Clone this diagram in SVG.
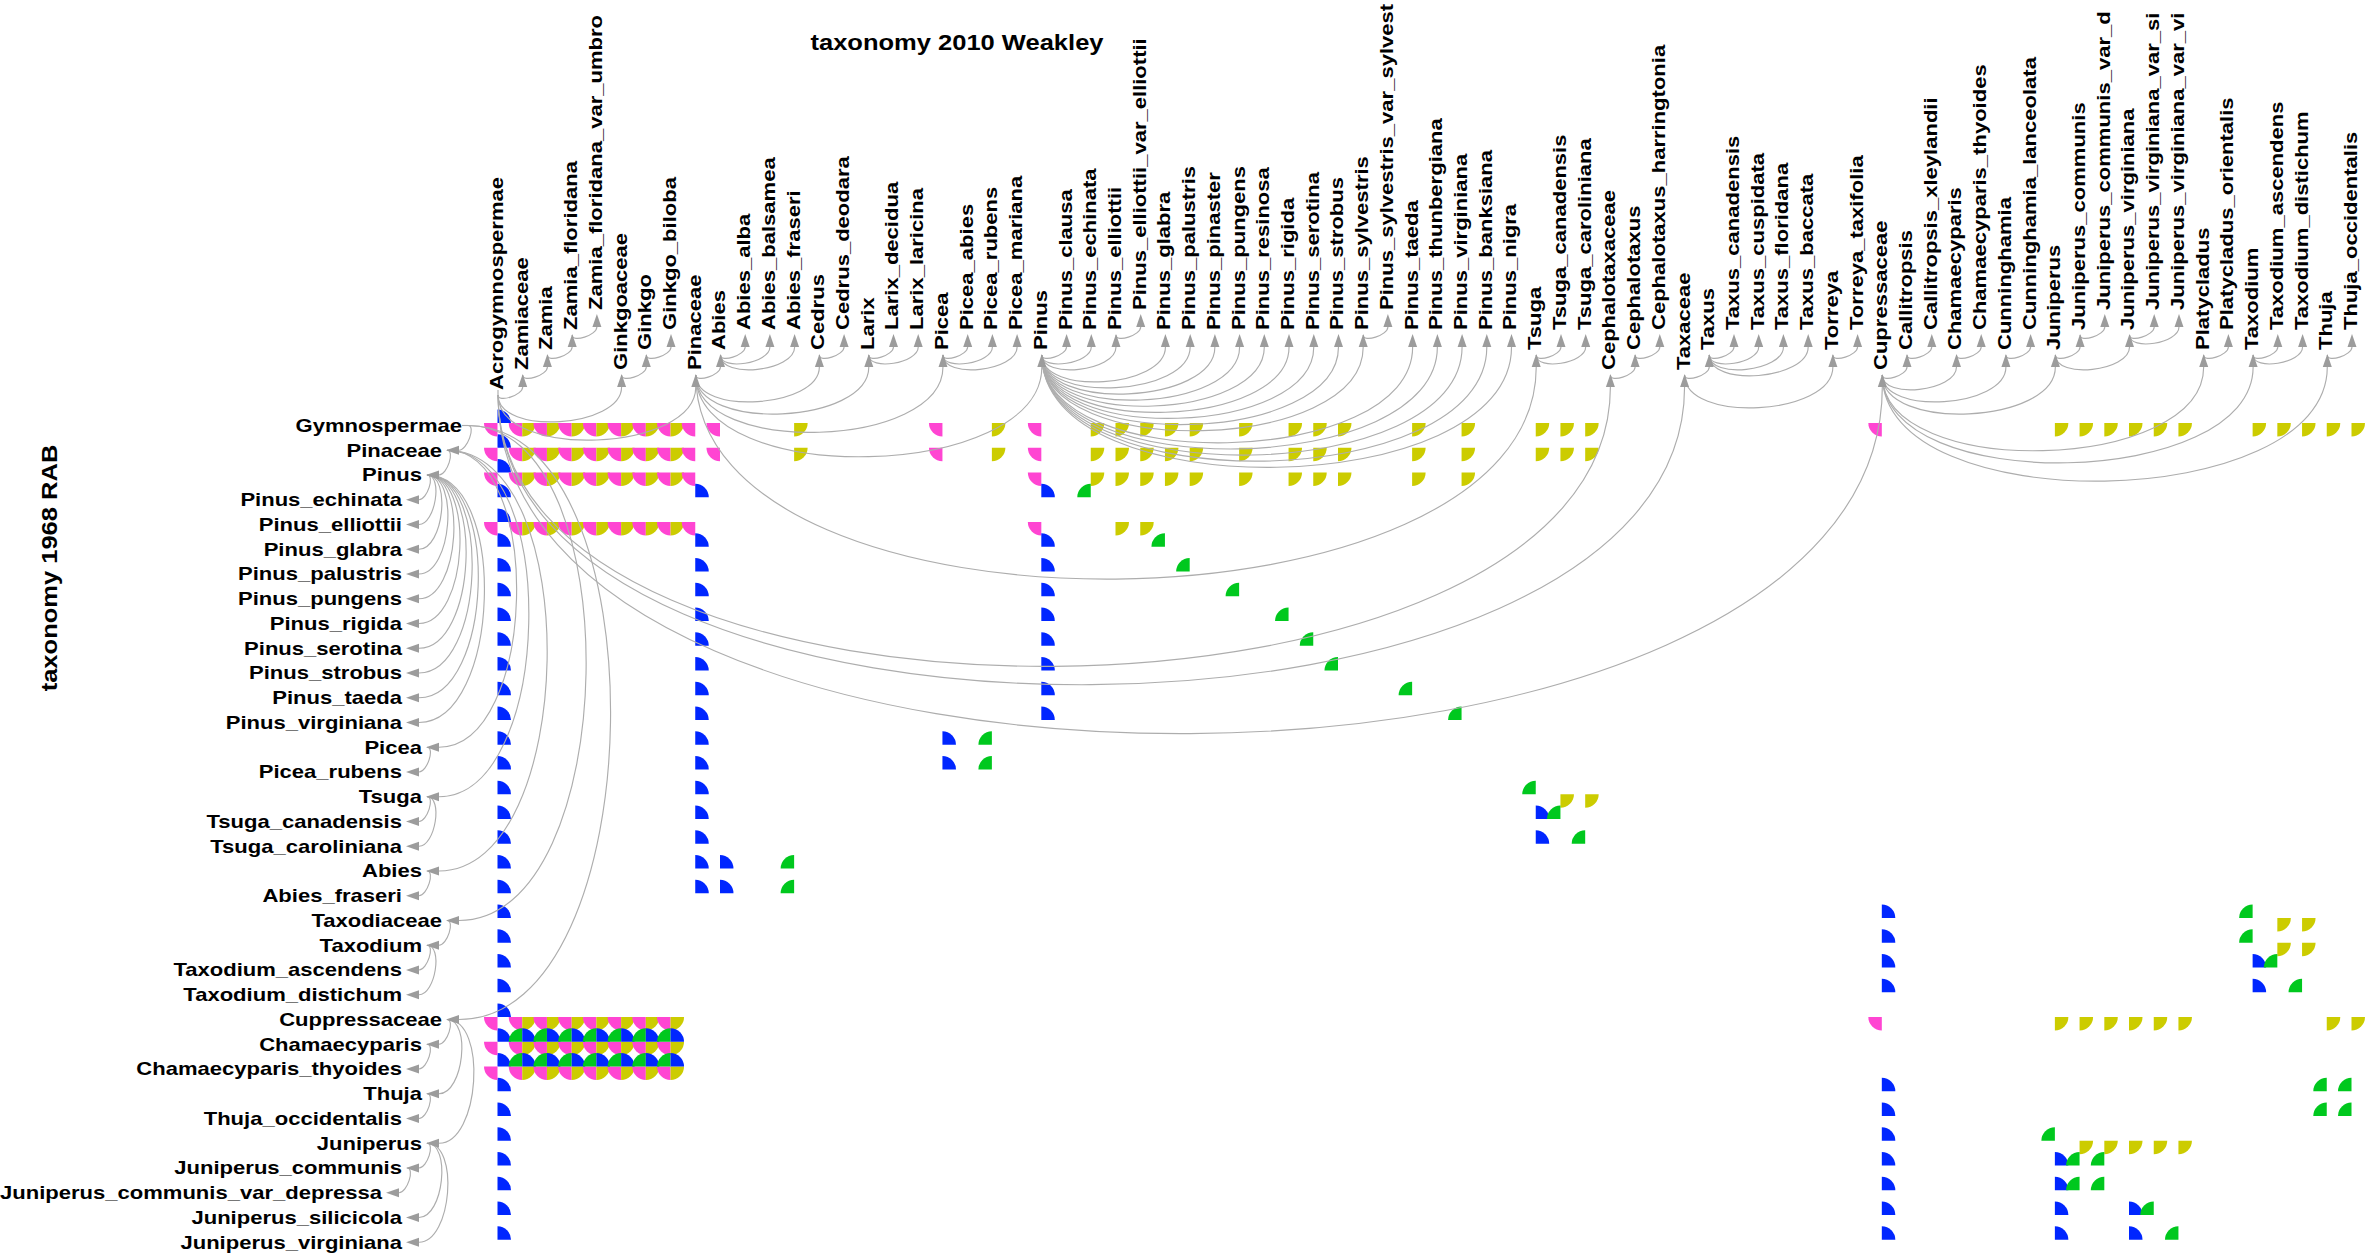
<svg xmlns="http://www.w3.org/2000/svg" width="2380" height="1260" viewBox="0 0 2380 1260">
<style>
text{font-family:"Liberation Sans",Arial,Helvetica,sans-serif;font-weight:bold;font-size:19px;fill:#000}
.title{font-size:22px}
.e path{fill:none;stroke:#adadad;stroke-width:1.15px;vector-effect:non-scaling-stroke}
</style>
<defs>
<path id="au" d="M0 0L-11.21 -4.5V4.5Z" fill="#9c9c9c"/>
<path id="al" d="M0 0L11.21 -4.5V4.5Z" fill="#9c9c9c"/>
<path id="P" d="M0 0H-.546A.546 .546 0 0 0 0 .546Z" fill="#ff45d2"/>
<path id="Y" d="M0 0V.546A.546 .546 0 0 0 .546 0Z" fill="#cccc00"/>
<path id="B" d="M0 0H.546A.546 .546 0 0 0 0 -.546Z" fill="#0026ff"/>
<path id="G" d="M0 0V-.546A.546 .546 0 0 0 -.546 0Z" fill="#00c81e"/>
<g id="py7"><use href="#P" x="1"/><use href="#Y" x="1"/><use href="#P" x="2"/><use href="#Y" x="2"/><use href="#P" x="3"/><use href="#Y" x="3"/><use href="#P" x="4"/><use href="#Y" x="4"/><use href="#P" x="5"/><use href="#Y" x="5"/><use href="#P" x="6"/><use href="#Y" x="6"/><use href="#P" x="7"/><use href="#Y" x="7"/></g>
<g id="gb7"><use href="#G" x="1"/><use href="#B" x="1"/><use href="#G" x="2"/><use href="#B" x="2"/><use href="#G" x="3"/><use href="#B" x="3"/><use href="#G" x="4"/><use href="#B" x="4"/><use href="#G" x="5"/><use href="#B" x="5"/><use href="#G" x="6"/><use href="#B" x="6"/><use href="#G" x="7"/><use href="#B" x="7"/></g>
<g id="pinY"><use href="#Y" x="24"/><use href="#Y" x="25"/><use href="#Y" x="26"/><use href="#Y" x="27"/><use href="#Y" x="28"/><use href="#Y" x="30"/><use href="#Y" x="32"/><use href="#Y" x="33"/><use href="#Y" x="34"/><use href="#Y" x="37"/><use href="#Y" x="39"/></g>
<g id="junY"><use href="#Y" x="64"/><use href="#Y" x="65"/><use href="#Y" x="66"/><use href="#Y" x="67"/><use href="#Y" x="68"/></g>
</defs>
<rect width="2380" height="1260" fill="#fff"/>
<text class="title" text-anchor="middle" transform="translate(957 50) scale(1.16 1)">taxonomy 2010 Weakley</text>
<text class="title" text-anchor="middle" transform="translate(57 568) rotate(-90) scale(1.16 1)">taxonomy 1968 RAB</text>

<g id="matrix" transform="translate(497.5 423) scale(24.72 24.75)">
<use href="#B" y="0"/><use href="#B" y="1"/><use href="#B" y="2"/><use href="#B" y="3"/><use href="#B" y="4"/><use href="#B" y="5"/><use href="#B" y="6"/><use href="#B" y="7"/><use href="#B" y="8"/><use href="#B" y="9"/><use href="#B" y="10"/><use href="#B" y="11"/><use href="#B" y="12"/><use href="#B" y="13"/><use href="#B" y="14"/><use href="#B" y="15"/><use href="#B" y="16"/><use href="#B" y="17"/><use href="#B" y="18"/><use href="#B" y="19"/><use href="#B" y="20"/><use href="#B" y="21"/><use href="#B" y="22"/><use href="#B" y="23"/><use href="#B" y="24"/><use href="#B" y="25"/><use href="#B" y="26"/><use href="#B" y="27"/><use href="#B" y="28"/><use href="#B" y="29"/><use href="#B" y="30"/><use href="#B" y="31"/><use href="#B" y="32"/><use href="#B" y="33"/>
<use href="#P" y="0"/><use href="#P" y="1"/><use href="#P" y="2"/><use href="#P" y="4"/><use href="#P" y="24"/><use href="#P" y="25"/><use href="#P" y="26"/>
<use href="#py7" y="0"/><use href="#py7" y="1"/><use href="#py7" y="2"/><use href="#py7" y="4"/><use href="#py7" y="24"/><use href="#py7" y="25"/><use href="#py7" y="26"/>
<use href="#gb7" y="25"/><use href="#gb7" y="26"/>
<use href="#P" x="8" y="0"/><use href="#P" x="8" y="1"/><use href="#P" x="8" y="2"/><use href="#P" x="8" y="4"/>
<use href="#P" x="9" y="0"/><use href="#P" x="9" y="1"/>
<use href="#Y" x="12" y="0"/><use href="#Y" x="12" y="1"/>
<use href="#P" x="18" y="0"/><use href="#P" x="18" y="1"/>
<use href="#Y" x="20" y="0"/><use href="#Y" x="20" y="1"/>
<use href="#P" x="22" y="0"/><use href="#P" x="22" y="1"/><use href="#P" x="22" y="2"/><use href="#P" x="22" y="4"/>
<use href="#pinY" y="0"/><use href="#pinY" y="1"/><use href="#pinY" y="2"/>
<use href="#Y" x="42" y="0"/><use href="#Y" x="43" y="0"/><use href="#Y" x="44" y="0"/>
<use href="#Y" x="42" y="1"/><use href="#Y" x="43" y="1"/><use href="#Y" x="44" y="1"/>
<use href="#P" x="56" y="0"/><use href="#P" x="56" y="24"/>
<use href="#Y" x="63" y="0"/><use href="#junY" y="0"/><use href="#Y" x="63" y="24"/><use href="#junY" y="24"/>
<use href="#Y" x="71" y="0"/><use href="#Y" x="72" y="0"/><use href="#Y" x="73" y="0"/><use href="#Y" x="74" y="0"/><use href="#Y" x="75" y="0"/>
<use href="#Y" x="74" y="24"/><use href="#Y" x="75" y="24"/>
<use href="#B" x="8" y="3"/><use href="#B" x="8" y="5"/><use href="#B" x="8" y="6"/><use href="#B" x="8" y="7"/><use href="#B" x="8" y="8"/><use href="#B" x="8" y="9"/><use href="#B" x="8" y="10"/><use href="#B" x="8" y="11"/><use href="#B" x="8" y="12"/><use href="#B" x="8" y="13"/><use href="#B" x="8" y="14"/><use href="#B" x="8" y="15"/><use href="#B" x="8" y="16"/><use href="#B" x="8" y="17"/><use href="#B" x="8" y="18"/><use href="#B" x="8" y="19"/>
<use href="#B" x="22" y="3"/><use href="#B" x="22" y="5"/><use href="#B" x="22" y="6"/><use href="#B" x="22" y="7"/><use href="#B" x="22" y="8"/><use href="#B" x="22" y="9"/><use href="#B" x="22" y="10"/><use href="#B" x="22" y="11"/><use href="#B" x="22" y="12"/>
<use href="#G" x="24" y="3"/>
<use href="#Y" x="25" y="4"/><use href="#Y" x="26" y="4"/>
<use href="#G" x="27" y="5"/><use href="#G" x="28" y="6"/><use href="#G" x="30" y="7"/><use href="#G" x="32" y="8"/><use href="#G" x="33" y="9"/><use href="#G" x="34" y="10"/><use href="#G" x="37" y="11"/><use href="#G" x="39" y="12"/>
<use href="#B" x="18" y="13"/><use href="#G" x="20" y="13"/><use href="#B" x="18" y="14"/><use href="#G" x="20" y="14"/>
<use href="#G" x="42" y="15"/><use href="#Y" x="43" y="15"/><use href="#Y" x="44" y="15"/>
<use href="#B" x="42" y="16"/><use href="#G" x="43" y="16"/>
<use href="#B" x="42" y="17"/><use href="#G" x="44" y="17"/>
<use href="#B" x="9" y="18"/><use href="#G" x="12" y="18"/><use href="#B" x="9" y="19"/><use href="#G" x="12" y="19"/>
<use href="#B" x="56" y="20"/><use href="#B" x="56" y="21"/><use href="#B" x="56" y="22"/><use href="#B" x="56" y="23"/><use href="#B" x="56" y="27"/><use href="#B" x="56" y="28"/><use href="#B" x="56" y="29"/><use href="#B" x="56" y="30"/><use href="#B" x="56" y="31"/><use href="#B" x="56" y="32"/><use href="#B" x="56" y="33"/>
<use href="#G" x="71" y="20"/><use href="#Y" x="72" y="20"/><use href="#Y" x="73" y="20"/>
<use href="#G" x="71" y="21"/><use href="#Y" x="72" y="21"/><use href="#Y" x="73" y="21"/>
<use href="#B" x="71" y="22"/><use href="#G" x="72" y="22"/>
<use href="#B" x="71" y="23"/><use href="#G" x="73" y="23"/>
<use href="#G" x="74" y="27"/><use href="#G" x="75" y="27"/><use href="#G" x="74" y="28"/><use href="#G" x="75" y="28"/>
<use href="#G" x="63" y="29"/><use href="#junY" y="29"/>
<use href="#B" x="63" y="30"/><use href="#G" x="64" y="30"/><use href="#G" x="65" y="30"/>
<use href="#B" x="63" y="31"/><use href="#G" x="64" y="31"/><use href="#G" x="65" y="31"/>
<use href="#B" x="63" y="32"/><use href="#B" x="66" y="32"/><use href="#G" x="67" y="32"/>
<use href="#B" x="63" y="33"/><use href="#B" x="66" y="33"/><use href="#G" x="68" y="33"/>
</g>

<g id="connectors">
<g class="e" id="column-edges" transform="translate(498 0) scale(24.72 1)">
<path d="M0 390V395"/>
<path d="M0 395C0 403.2 1 395.2 1 387"/>
<path d="M0 395C0 435.8 5 427.8 5 387"/>
<path d="M0 395C0 460.3 8 452.3 8 387"/>
<path d="M0 395C0 762.1 45 754.1 45 387"/>
<path d="M0 395C0 786.6 48 778.6 48 387"/>
<path d="M0 395C0 851.8 56 843.8 56 387"/>
<path d="M1 375C1 383.2 2 375.2 2 367"/>
<path d="M2 355C2 363.2 3 355.2 3 347"/>
<path d="M3 335C3 343.2 4 335.2 4 327"/>
<path d="M5 375C5 383.2 6 375.2 6 367"/>
<path d="M6 355C6 363.2 7 355.2 7 347"/>
<path d="M8 375C8 383.2 9 375.2 9 367"/>
<path d="M8 375C8 415.8 13 407.8 13 367"/>
<path d="M8 375C8 432.1 15 424.1 15 367"/>
<path d="M8 375C8 456.6 18 448.6 18 367"/>
<path d="M8 375C8 489.2 22 481.2 22 367"/>
<path d="M8 375C8 652.4 42 644.4 42 367"/>
<path d="M9 355C9 363.2 10 355.2 10 347"/>
<path d="M9 355C9 371.3 11 363.3 11 347"/>
<path d="M9 355C9 379.5 12 371.5 12 347"/>
<path d="M13 355C13 363.2 14 355.2 14 347"/>
<path d="M15 355C15 363.2 16 355.2 16 347"/>
<path d="M15 355C15 371.3 17 363.3 17 347"/>
<path d="M18 355C18 363.2 19 355.2 19 347"/>
<path d="M18 355C18 371.3 20 363.3 20 347"/>
<path d="M18 355C18 379.5 21 371.5 21 347"/>
<path d="M22 355C22 363.2 23 355.2 23 347"/>
<path d="M22 355C22 371.3 24 363.3 24 347"/>
<path d="M22 355C22 379.5 25 371.5 25 347"/>
<path d="M22 355C22 395.8 27 387.8 27 347"/>
<path d="M22 355C22 403.9 28 395.9 28 347"/>
<path d="M22 355C22 412.1 29 404.1 29 347"/>
<path d="M22 355C22 420.3 30 412.3 30 347"/>
<path d="M22 355C22 428.4 31 420.4 31 347"/>
<path d="M22 355C22 436.6 32 428.6 32 347"/>
<path d="M22 355C22 444.7 33 436.7 33 347"/>
<path d="M22 355C22 452.9 34 444.9 34 347"/>
<path d="M22 355C22 461.1 35 453.1 35 347"/>
<path d="M22 355C22 477.4 37 469.4 37 347"/>
<path d="M22 355C22 485.5 38 477.5 38 347"/>
<path d="M22 355C22 493.7 39 485.7 39 347"/>
<path d="M22 355C22 501.8 40 493.8 40 347"/>
<path d="M22 355C22 510 41 502 41 347"/>
<path d="M25 335C25 343.2 26 335.2 26 327"/>
<path d="M35 335C35 343.2 36 335.2 36 327"/>
<path d="M42 355C42 363.2 43 355.2 43 347"/>
<path d="M42 355C42 371.3 44 363.3 44 347"/>
<path d="M45 375C45 383.2 46 375.2 46 367"/>
<path d="M46 355C46 363.2 47 355.2 47 347"/>
<path d="M48 375C48 383.2 49 375.2 49 367"/>
<path d="M48 375C48 423.9 54 415.9 54 367"/>
<path d="M49 355C49 363.2 50 355.2 50 347"/>
<path d="M49 355C49 371.3 51 363.3 51 347"/>
<path d="M49 355C49 379.5 52 371.5 52 347"/>
<path d="M49 355C49 387.6 53 379.6 53 347"/>
<path d="M54 355C54 363.2 55 355.2 55 347"/>
<path d="M56 375C56 383.2 57 375.2 57 367"/>
<path d="M56 375C56 399.5 59 391.5 59 367"/>
<path d="M56 375C56 415.8 61 407.8 61 367"/>
<path d="M56 375C56 432.1 63 424.1 63 367"/>
<path d="M56 375C56 481.1 69 473.1 69 367"/>
<path d="M56 375C56 497.4 71 489.4 71 367"/>
<path d="M56 375C56 521.8 74 513.8 74 367"/>
<path d="M57 355C57 363.2 58 355.2 58 347"/>
<path d="M59 355C59 363.2 60 355.2 60 347"/>
<path d="M61 355C61 363.2 62 355.2 62 347"/>
<path d="M63 355C63 363.2 64 355.2 64 347"/>
<path d="M63 355C63 379.5 66 371.5 66 347"/>
<path d="M64 335C64 343.2 65 335.2 65 327"/>
<path d="M66 335C66 343.2 67 335.2 67 327"/>
<path d="M66 335C66 351.3 68 343.3 68 327"/>
<path d="M69 355C69 363.2 70 355.2 70 347"/>
<path d="M71 355C71 363.2 72 355.2 72 347"/>
<path d="M71 355C71 371.3 73 363.3 73 347"/>
<path d="M74 355C74 363.2 75 355.2 75 347"/>
</g>
<g class="e" id="row-edges" transform="translate(0 425.5) scale(1 24.75)">
<path d="M462 0H468"/>
<path d="M468 0C476.2 0 467.2 1 459 1"/>
<path d="M468 0C631.4 0 622.4 20 459 20"/>
<path d="M468 0C664 0 655 24 459 24"/>
<path d="M447 1C455.2 1 447.2 2 439 2"/>
<path d="M447 1C545 1 537 13 439 13"/>
<path d="M447 1C561.3 1 553.3 15 439 15"/>
<path d="M447 1C585.8 1 577.8 18 439 18"/>
<path d="M427 2C435.2 2 427.2 3 419 3"/>
<path d="M427 2C443.3 2 435.3 4 419 4"/>
<path d="M427 2C451.5 2 443.5 5 419 5"/>
<path d="M427 2C459.7 2 451.7 6 419 6"/>
<path d="M427 2C467.8 2 459.8 7 419 7"/>
<path d="M427 2C476 2 468 8 419 8"/>
<path d="M427 2C484.2 2 476.2 9 419 9"/>
<path d="M427 2C492.3 2 484.3 10 419 10"/>
<path d="M427 2C500.5 2 492.5 11 419 11"/>
<path d="M427 2C508.7 2 500.7 12 419 12"/>
<path d="M427 13C435.2 13 427.2 14 419 14"/>
<path d="M427 15C435.2 15 427.2 16 419 16"/>
<path d="M427 15C443.3 15 435.3 17 419 17"/>
<path d="M427 18C435.2 18 427.2 19 419 19"/>
<path d="M447 20C455.2 20 447.2 21 439 21"/>
<path d="M427 21C435.2 21 427.2 22 419 22"/>
<path d="M427 21C443.3 21 435.3 23 419 23"/>
<path d="M447 24C455.2 24 447.2 25 439 25"/>
<path d="M447 24C471.5 24 463.5 27 439 27"/>
<path d="M447 24C487.8 24 479.8 29 439 29"/>
<path d="M427 25C435.2 25 427.2 26 419 26"/>
<path d="M427 27C435.2 27 427.2 28 419 28"/>
<path d="M427 29C435.2 29 427.2 30 419 30"/>
<path d="M427 29C451.5 29 443.5 32 419 32"/>
<path d="M427 29C459.7 29 451.7 33 419 33"/>
<path d="M407 30C415.2 30 407.2 31 399 31"/>
</g>
</g>

<g id="column-nodes" transform="rotate(-90) scale(1.16 1)">
<g id="col-Acrogymnospermae"><text x="-336.21" y="503">Acrogymnospermae</text></g>
<g id="col-Zamiaceae"><text x="-318.97" y="527.7">Zamiaceae</text><use href="#au" x="-322.41" y="522.7"/></g>
<g id="col-Zamia"><text x="-301.72" y="552.4">Zamia</text><use href="#au" x="-305.17" y="547.4"/></g>
<g id="col-Zamia_floridana"><text x="-284.48" y="577.2">Zamia_floridana</text><use href="#au" x="-287.93" y="572.2"/></g>
<g id="col-Zamia_floridana_var_umbro"><text x="-267.24" y="601.9">Zamia_floridana_var_umbro</text><use href="#au" x="-270.69" y="596.9"/></g>
<g id="col-Ginkgoaceae"><text x="-318.97" y="626.6">Ginkgoaceae</text><use href="#au" x="-322.41" y="621.6"/></g>
<g id="col-Ginkgo"><text x="-301.72" y="651.3">Ginkgo</text><use href="#au" x="-305.17" y="646.3"/></g>
<g id="col-Ginkgo_biloba"><text x="-284.48" y="676">Ginkgo_biloba</text><use href="#au" x="-287.93" y="671"/></g>
<g id="col-Pinaceae"><text x="-318.97" y="700.8">Pinaceae</text><use href="#au" x="-322.41" y="695.8"/></g>
<g id="col-Abies"><text x="-301.72" y="725.5">Abies</text><use href="#au" x="-305.17" y="720.5"/></g>
<g id="col-Abies_alba"><text x="-284.48" y="750.2">Abies_alba</text><use href="#au" x="-287.93" y="745.2"/></g>
<g id="col-Abies_balsamea"><text x="-284.48" y="774.9">Abies_balsamea</text><use href="#au" x="-287.93" y="769.9"/></g>
<g id="col-Abies_fraseri"><text x="-284.48" y="799.6">Abies_fraseri</text><use href="#au" x="-287.93" y="794.6"/></g>
<g id="col-Cedrus"><text x="-301.72" y="824.4">Cedrus</text><use href="#au" x="-305.17" y="819.4"/></g>
<g id="col-Cedrus_deodara"><text x="-284.48" y="849.1">Cedrus_deodara</text><use href="#au" x="-287.93" y="844.1"/></g>
<g id="col-Larix"><text x="-301.72" y="873.8">Larix</text><use href="#au" x="-305.17" y="868.8"/></g>
<g id="col-Larix_decidua"><text x="-284.48" y="898.5">Larix_decidua</text><use href="#au" x="-287.93" y="893.5"/></g>
<g id="col-Larix_laricina"><text x="-284.48" y="923.2">Larix_laricina</text><use href="#au" x="-287.93" y="918.2"/></g>
<g id="col-Picea"><text x="-301.72" y="948">Picea</text><use href="#au" x="-305.17" y="943"/></g>
<g id="col-Picea_abies"><text x="-284.48" y="972.7">Picea_abies</text><use href="#au" x="-287.93" y="967.7"/></g>
<g id="col-Picea_rubens"><text x="-284.48" y="997.4">Picea_rubens</text><use href="#au" x="-287.93" y="992.4"/></g>
<g id="col-Picea_mariana"><text x="-284.48" y="1022.1">Picea_mariana</text><use href="#au" x="-287.93" y="1017.1"/></g>
<g id="col-Pinus"><text x="-301.72" y="1046.8">Pinus</text><use href="#au" x="-305.17" y="1041.8"/></g>
<g id="col-Pinus_clausa"><text x="-284.48" y="1071.6">Pinus_clausa</text><use href="#au" x="-287.93" y="1066.6"/></g>
<g id="col-Pinus_echinata"><text x="-284.48" y="1096.3">Pinus_echinata</text><use href="#au" x="-287.93" y="1091.3"/></g>
<g id="col-Pinus_elliottii"><text x="-284.48" y="1121">Pinus_elliottii</text><use href="#au" x="-287.93" y="1116"/></g>
<g id="col-Pinus_elliottii_var_elliottii"><text x="-267.24" y="1145.7">Pinus_elliottii_var_elliottii</text><use href="#au" x="-270.69" y="1140.7"/></g>
<g id="col-Pinus_glabra"><text x="-284.48" y="1170.4">Pinus_glabra</text><use href="#au" x="-287.93" y="1165.4"/></g>
<g id="col-Pinus_palustris"><text x="-284.48" y="1195.2">Pinus_palustris</text><use href="#au" x="-287.93" y="1190.2"/></g>
<g id="col-Pinus_pinaster"><text x="-284.48" y="1219.9">Pinus_pinaster</text><use href="#au" x="-287.93" y="1214.9"/></g>
<g id="col-Pinus_pungens"><text x="-284.48" y="1244.6">Pinus_pungens</text><use href="#au" x="-287.93" y="1239.6"/></g>
<g id="col-Pinus_resinosa"><text x="-284.48" y="1269.3">Pinus_resinosa</text><use href="#au" x="-287.93" y="1264.3"/></g>
<g id="col-Pinus_rigida"><text x="-284.48" y="1294">Pinus_rigida</text><use href="#au" x="-287.93" y="1289"/></g>
<g id="col-Pinus_serotina"><text x="-284.48" y="1318.8">Pinus_serotina</text><use href="#au" x="-287.93" y="1313.8"/></g>
<g id="col-Pinus_strobus"><text x="-284.48" y="1343.5">Pinus_strobus</text><use href="#au" x="-287.93" y="1338.5"/></g>
<g id="col-Pinus_sylvestris"><text x="-284.48" y="1368.2">Pinus_sylvestris</text><use href="#au" x="-287.93" y="1363.2"/></g>
<g id="col-Pinus_sylvestris_var_sylvest"><text x="-267.24" y="1392.9">Pinus_sylvestris_var_sylvest</text><use href="#au" x="-270.69" y="1387.9"/></g>
<g id="col-Pinus_taeda"><text x="-284.48" y="1417.6">Pinus_taeda</text><use href="#au" x="-287.93" y="1412.6"/></g>
<g id="col-Pinus_thunbergiana"><text x="-284.48" y="1442.4">Pinus_thunbergiana</text><use href="#au" x="-287.93" y="1437.4"/></g>
<g id="col-Pinus_virginiana"><text x="-284.48" y="1467.1">Pinus_virginiana</text><use href="#au" x="-287.93" y="1462.1"/></g>
<g id="col-Pinus_banksiana"><text x="-284.48" y="1491.8">Pinus_banksiana</text><use href="#au" x="-287.93" y="1486.8"/></g>
<g id="col-Pinus_nigra"><text x="-284.48" y="1516.5">Pinus_nigra</text><use href="#au" x="-287.93" y="1511.5"/></g>
<g id="col-Tsuga"><text x="-301.72" y="1541.2">Tsuga</text><use href="#au" x="-305.17" y="1536.2"/></g>
<g id="col-Tsuga_canadensis"><text x="-284.48" y="1566">Tsuga_canadensis</text><use href="#au" x="-287.93" y="1561"/></g>
<g id="col-Tsuga_caroliniana"><text x="-284.48" y="1590.7">Tsuga_caroliniana</text><use href="#au" x="-287.93" y="1585.7"/></g>
<g id="col-Cephalotaxaceae"><text x="-318.97" y="1615.4">Cephalotaxaceae</text><use href="#au" x="-322.41" y="1610.4"/></g>
<g id="col-Cephalotaxus"><text x="-301.72" y="1640.1">Cephalotaxus</text><use href="#au" x="-305.17" y="1635.1"/></g>
<g id="col-Cephalotaxus_harringtonia"><text x="-284.48" y="1664.8">Cephalotaxus_harringtonia</text><use href="#au" x="-287.93" y="1659.8"/></g>
<g id="col-Taxaceae"><text x="-318.97" y="1689.6">Taxaceae</text><use href="#au" x="-322.41" y="1684.6"/></g>
<g id="col-Taxus"><text x="-301.72" y="1714.3">Taxus</text><use href="#au" x="-305.17" y="1709.3"/></g>
<g id="col-Taxus_canadensis"><text x="-284.48" y="1739">Taxus_canadensis</text><use href="#au" x="-287.93" y="1734"/></g>
<g id="col-Taxus_cuspidata"><text x="-284.48" y="1763.7">Taxus_cuspidata</text><use href="#au" x="-287.93" y="1758.7"/></g>
<g id="col-Taxus_floridana"><text x="-284.48" y="1788.4">Taxus_floridana</text><use href="#au" x="-287.93" y="1783.4"/></g>
<g id="col-Taxus_baccata"><text x="-284.48" y="1813.2">Taxus_baccata</text><use href="#au" x="-287.93" y="1808.2"/></g>
<g id="col-Torreya"><text x="-301.72" y="1837.9">Torreya</text><use href="#au" x="-305.17" y="1832.9"/></g>
<g id="col-Torreya_taxifolia"><text x="-284.48" y="1862.6">Torreya_taxifolia</text><use href="#au" x="-287.93" y="1857.6"/></g>
<g id="col-Cupressaceae"><text x="-318.97" y="1887.3">Cupressaceae</text><use href="#au" x="-322.41" y="1882.3"/></g>
<g id="col-Callitropsis"><text x="-301.72" y="1912">Callitropsis</text><use href="#au" x="-305.17" y="1907"/></g>
<g id="col-Callitropsis_xleylandii"><text x="-284.48" y="1936.8">Callitropsis_xleylandii</text><use href="#au" x="-287.93" y="1931.8"/></g>
<g id="col-Chamaecyparis"><text x="-301.72" y="1961.5">Chamaecyparis</text><use href="#au" x="-305.17" y="1956.5"/></g>
<g id="col-Chamaecyparis_thyoides"><text x="-284.48" y="1986.2">Chamaecyparis_thyoides</text><use href="#au" x="-287.93" y="1981.2"/></g>
<g id="col-Cunninghamia"><text x="-301.72" y="2010.9">Cunninghamia</text><use href="#au" x="-305.17" y="2005.9"/></g>
<g id="col-Cunninghamia_lanceolata"><text x="-284.48" y="2035.6">Cunninghamia_lanceolata</text><use href="#au" x="-287.93" y="2030.6"/></g>
<g id="col-Juniperus"><text x="-301.72" y="2060.4">Juniperus</text><use href="#au" x="-305.17" y="2055.4"/></g>
<g id="col-Juniperus_communis"><text x="-284.48" y="2085.1">Juniperus_communis</text><use href="#au" x="-287.93" y="2080.1"/></g>
<g id="col-Juniperus_communis_var_d"><text x="-267.24" y="2109.8">Juniperus_communis_var_d</text><use href="#au" x="-270.69" y="2104.8"/></g>
<g id="col-Juniperus_virginiana"><text x="-284.48" y="2134.5">Juniperus_virginiana</text><use href="#au" x="-287.93" y="2129.5"/></g>
<g id="col-Juniperus_virginiana_var_si"><text x="-267.24" y="2159.2">Juniperus_virginiana_var_si</text><use href="#au" x="-270.69" y="2154.2"/></g>
<g id="col-Juniperus_virginiana_var_vi"><text x="-267.24" y="2184">Juniperus_virginiana_var_vi</text><use href="#au" x="-270.69" y="2179"/></g>
<g id="col-Platycladus"><text x="-301.72" y="2208.7">Platycladus</text><use href="#au" x="-305.17" y="2203.7"/></g>
<g id="col-Platycladus_orientalis"><text x="-284.48" y="2233.4">Platycladus_orientalis</text><use href="#au" x="-287.93" y="2228.4"/></g>
<g id="col-Taxodium"><text x="-301.72" y="2258.1">Taxodium</text><use href="#au" x="-305.17" y="2253.1"/></g>
<g id="col-Taxodium_ascendens"><text x="-284.48" y="2282.8">Taxodium_ascendens</text><use href="#au" x="-287.93" y="2277.8"/></g>
<g id="col-Taxodium_distichum"><text x="-284.48" y="2307.6">Taxodium_distichum</text><use href="#au" x="-287.93" y="2302.6"/></g>
<g id="col-Thuja"><text x="-301.72" y="2332.3">Thuja</text><use href="#au" x="-305.17" y="2327.3"/></g>
<g id="col-Thuja_occidentalis"><text x="-284.48" y="2357">Thuja_occidentalis</text><use href="#au" x="-287.93" y="2352"/></g>
</g>

<g id="row-nodes" transform="scale(1.16 1)" text-anchor="end">
<g id="row-Gymnospermae"><text x="398.28" y="432">Gymnospermae</text></g>
<g id="row-Pinaceae"><text x="381.03" y="456.75">Pinaceae</text><use href="#al" x="384.48" y="450.25"/></g>
<g id="row-Pinus"><text x="363.79" y="481.5">Pinus</text><use href="#al" x="367.24" y="475"/></g>
<g id="row-Pinus_echinata"><text x="346.55" y="506.25">Pinus_echinata</text><use href="#al" x="350" y="499.75"/></g>
<g id="row-Pinus_elliottii"><text x="346.55" y="531">Pinus_elliottii</text><use href="#al" x="350" y="524.5"/></g>
<g id="row-Pinus_glabra"><text x="346.55" y="555.75">Pinus_glabra</text><use href="#al" x="350" y="549.25"/></g>
<g id="row-Pinus_palustris"><text x="346.55" y="580.5">Pinus_palustris</text><use href="#al" x="350" y="574"/></g>
<g id="row-Pinus_pungens"><text x="346.55" y="605.25">Pinus_pungens</text><use href="#al" x="350" y="598.75"/></g>
<g id="row-Pinus_rigida"><text x="346.55" y="630">Pinus_rigida</text><use href="#al" x="350" y="623.5"/></g>
<g id="row-Pinus_serotina"><text x="346.55" y="654.75">Pinus_serotina</text><use href="#al" x="350" y="648.25"/></g>
<g id="row-Pinus_strobus"><text x="346.55" y="679.5">Pinus_strobus</text><use href="#al" x="350" y="673"/></g>
<g id="row-Pinus_taeda"><text x="346.55" y="704.25">Pinus_taeda</text><use href="#al" x="350" y="697.75"/></g>
<g id="row-Pinus_virginiana"><text x="346.55" y="729">Pinus_virginiana</text><use href="#al" x="350" y="722.5"/></g>
<g id="row-Picea"><text x="363.79" y="753.75">Picea</text><use href="#al" x="367.24" y="747.25"/></g>
<g id="row-Picea_rubens"><text x="346.55" y="778.5">Picea_rubens</text><use href="#al" x="350" y="772"/></g>
<g id="row-Tsuga"><text x="363.79" y="803.25">Tsuga</text><use href="#al" x="367.24" y="796.75"/></g>
<g id="row-Tsuga_canadensis"><text x="346.55" y="828">Tsuga_canadensis</text><use href="#al" x="350" y="821.5"/></g>
<g id="row-Tsuga_caroliniana"><text x="346.55" y="852.75">Tsuga_caroliniana</text><use href="#al" x="350" y="846.25"/></g>
<g id="row-Abies"><text x="363.79" y="877.5">Abies</text><use href="#al" x="367.24" y="871"/></g>
<g id="row-Abies_fraseri"><text x="346.55" y="902.25">Abies_fraseri</text><use href="#al" x="350" y="895.75"/></g>
<g id="row-Taxodiaceae"><text x="381.03" y="927">Taxodiaceae</text><use href="#al" x="384.48" y="920.5"/></g>
<g id="row-Taxodium"><text x="363.79" y="951.75">Taxodium</text><use href="#al" x="367.24" y="945.25"/></g>
<g id="row-Taxodium_ascendens"><text x="346.55" y="976.5">Taxodium_ascendens</text><use href="#al" x="350" y="970"/></g>
<g id="row-Taxodium_distichum"><text x="346.55" y="1001.25">Taxodium_distichum</text><use href="#al" x="350" y="994.75"/></g>
<g id="row-Cuppressaceae"><text x="381.03" y="1026">Cuppressaceae</text><use href="#al" x="384.48" y="1019.5"/></g>
<g id="row-Chamaecyparis"><text x="363.79" y="1050.75">Chamaecyparis</text><use href="#al" x="367.24" y="1044.25"/></g>
<g id="row-Chamaecyparis_thyoides"><text x="346.55" y="1075.5">Chamaecyparis_thyoides</text><use href="#al" x="350" y="1069"/></g>
<g id="row-Thuja"><text x="363.79" y="1100.25">Thuja</text><use href="#al" x="367.24" y="1093.75"/></g>
<g id="row-Thuja_occidentalis"><text x="346.55" y="1125">Thuja_occidentalis</text><use href="#al" x="350" y="1118.5"/></g>
<g id="row-Juniperus"><text x="363.79" y="1149.75">Juniperus</text><use href="#al" x="367.24" y="1143.25"/></g>
<g id="row-Juniperus_communis"><text x="346.55" y="1174.5">Juniperus_communis</text><use href="#al" x="350" y="1168"/></g>
<g id="row-Juniperus_communis_var_depressa"><text x="329.31" y="1199.25">Juniperus_communis_var_depressa</text><use href="#al" x="332.76" y="1192.75"/></g>
<g id="row-Juniperus_silicicola"><text x="346.55" y="1224">Juniperus_silicicola</text><use href="#al" x="350" y="1217.5"/></g>
<g id="row-Juniperus_virginiana"><text x="346.55" y="1248.75">Juniperus_virginiana</text><use href="#al" x="350" y="1242.25"/></g>
</g>
</svg>
